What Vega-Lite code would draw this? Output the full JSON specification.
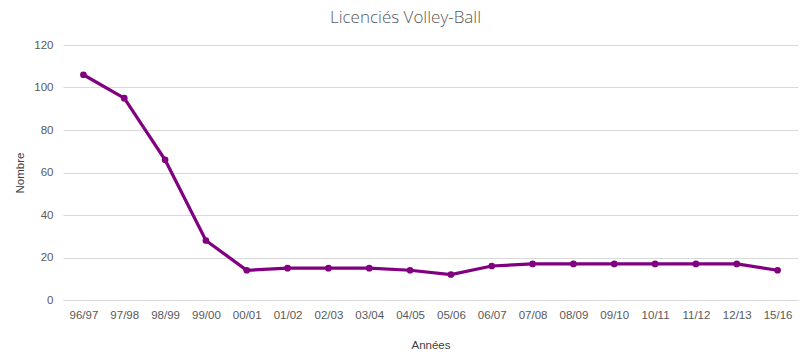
{
  "$schema": "https://vega.github.io/schema/vega-lite/v6.json",
  "width": 735,
  "height": 255,
  "autosize": {"type": "none"},
  "padding": {"left": 63, "top": 45, "right": 12, "bottom": 58},
  "background": "white",
  "title": {
    "text": "Licenciés Volley-Ball",
    "font": "Open Sans",
    "fontSize": 17,
    "fontWeight": 300,
    "color": "#595959",
    "anchor": "middle",
    "dx": -25,
    "offset": 12
  },
  "data": {
    "values": [
      {"annee": "96/97", "nombre": 106},
      {"annee": "97/98", "nombre": 95},
      {"annee": "98/99", "nombre": 66},
      {"annee": "99/00", "nombre": 28},
      {"annee": "00/01", "nombre": 14},
      {"annee": "01/02", "nombre": 15},
      {"annee": "02/03", "nombre": 15},
      {"annee": "03/04", "nombre": 15},
      {"annee": "04/05", "nombre": 14},
      {"annee": "05/06", "nombre": 12},
      {"annee": "06/07", "nombre": 16},
      {"annee": "07/08", "nombre": 17},
      {"annee": "08/09", "nombre": 17},
      {"annee": "09/10", "nombre": 17},
      {"annee": "10/11", "nombre": 17},
      {"annee": "11/12", "nombre": 17},
      {"annee": "12/13", "nombre": 17},
      {"annee": "15/16", "nombre": 14}
    ]
  },
  "mark": {"type": "line", "color": "#800080", "strokeWidth": 3.25, "point": {"filled": true, "size": 45, "color": "#800080"}},
  "encoding": {
    "x": {
      "field": "annee",
      "type": "ordinal",
      "sort": null,
      "scale": {"type": "point", "padding": 0.5},
      "axis": {
        "title": "Années",
        "labelAngle": 0,
        "ticks": false,
        "domain": true,
        "domainColor": "#d9d9d9",
        "grid": false,
        "labelPadding": 9,
        "labelFont": "Liberation Sans",
        "labelFontSize": 11.5,
        "labelColor": "#595959",
        "titleFont": "Liberation Sans",
        "titleFontSize": 11.5,
        "titleFontWeight": "normal",
        "titleColor": "#404040",
        "titlePadding": 19
      }
    },
    "y": {
      "field": "nombre",
      "type": "quantitative",
      "scale": {"domain": [0, 120]},
      "axis": {
        "title": "Nombre",
        "values": [0, 20, 40, 60, 80, 100, 120],
        "ticks": false,
        "domain": false,
        "gridColor": "#d9d9d9",
        "labelPadding": 10,
        "labelFont": "Liberation Sans",
        "labelFontSize": 11.5,
        "labelColor": "#595959",
        "titleFont": "Liberation Sans",
        "titleFontSize": 11.5,
        "titleFontWeight": "normal",
        "titleColor": "#404040",
        "titlePadding": 8
      }
    }
  },
  "config": {"view": {"stroke": null}}
}
